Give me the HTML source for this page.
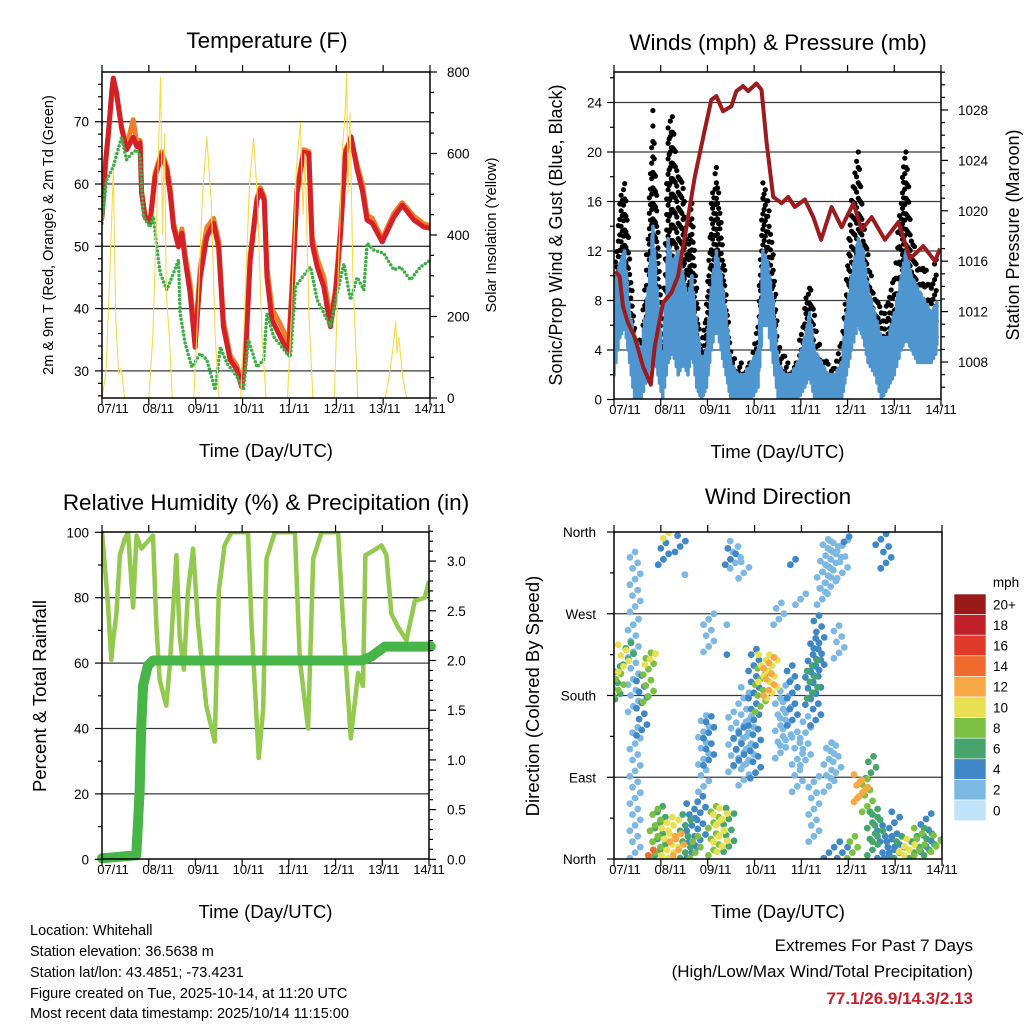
<!DOCTYPE html>
<html><head><meta charset="utf-8"><style>
html,body{margin:0;padding:0;background:#fff;}
svg{display:block;font-family:"Liberation Sans",sans-serif;}
</style></head><body>
<svg id="fig" width="1024" height="1024" viewBox="0 0 1024 1024" xmlns="http://www.w3.org/2000/svg">
<defs>
<clipPath id="c1"><rect x="102" y="72" width="328" height="326"/></clipPath>
<clipPath id="c2"><rect x="614" y="72" width="327" height="327"/></clipPath>
<clipPath id="c3"><rect x="102" y="532" width="327" height="327"/></clipPath>
<clipPath id="c4"><rect x="614" y="532" width="328" height="327"/></clipPath>
</defs>
<g id="g1"></g>
<g id="g2"></g>
<g id="g3"></g>
<g id="g4"></g>
<g id="info" font-size="14.5" fill="#000">
<text x="30" y="935">Location: Whitehall</text>
<text x="30" y="956">Station elevation: 36.5638 m</text>
<text x="30" y="977">Station lat/lon: 43.4851; -73.4231</text>
<text x="30" y="998">Figure created on Tue, 2025-10-14, at 11:20 UTC</text>
<text x="30" y="1018">Most recent data timestamp: 2025/10/14 11:15:00</text>
</g>
<g text-anchor="end">
<text x="973" y="951" font-size="17">Extremes For Past 7 Days</text>
<text x="973" y="977" font-size="17">(High/Low/Max Wind/Total Precipitation)</text>
<text x="973" y="1004" font-size="17" font-weight="bold" fill="#c8202a">77.1/26.9/14.3/2.13</text>
</g>
</svg>
<script>
// ---------- DATA ----------
const dayLabels = ["07/11","08/11","09/11","10/11","11/11","12/11","13/11","14/11"];
// Temperature (hours since 07/11 00 UTC)
const tempHours = [0,1.9,3.3,5.0,5.8,7.5,10,12.6,16,17.8,19.5,20.3,22,24.6,27.2,30.6,33.2,34.9,36.6,39.2,40.9,42.6,45.1,47.7,48.9,50.3,53.7,57.1,59.7,62.2,65.6,69.1,71.6,73.4,75.9,79.4,81.1,83.1,84.5,87,91.3,95.6,97.3,99.9,103.3,105.9,107.6,110.2,113.6,117,119.6,122.2,124.7,127.6,130.7,133.3,135.8,138.4,143.5,149.5,153.8,159.8,164.9,168.3];
const temp2m = [54.8,63.9,68.2,75,77,74.6,69,65.5,67.5,66,66.6,58.5,54.7,53.7,61.1,64.7,62.3,58.5,53.1,49.9,52.1,47.8,42.5,33.8,39.3,45,51.5,53.7,49.9,37.1,31.8,30.2,27.4,31.8,47.8,57.4,59,57.4,45,38.2,35.5,32.8,42.5,58.5,65.1,64.9,50.5,46.7,43.5,37.1,42.5,52.1,64.9,67.6,62.3,59,54.2,53.7,50.7,54.7,56.6,54.2,53.1,52.9];
const temp9m = [54.5,63.5,68,74.2,76.3,74.2,69.2,66,70.3,66.5,67,58.8,55,54,61.8,65.2,62.8,59.5,53.8,50.5,52.8,48.5,44,34.5,40.5,46.5,53,54.5,50.8,38,32.5,30.8,28,32.5,48.5,57.8,59.4,58,46.5,40,37.5,34.5,43.5,59.2,65.5,65.2,51.5,48,45,38.3,43,53,65.5,67.2,63,60,55,54.5,51.2,55.3,57,54.8,53.6,53.3];
const dewHours = [0,2.3,5.8,10,12.6,15.2,17.8,19.5,21.2,24.6,26.3,28.9,29.8,33.2,36.6,39.2,40,42.6,46,50.3,53.7,58,60.6,64,69.1,72.5,75,79.4,82.8,84.5,87.9,92.2,96.5,99.1,102.5,106.8,110.2,113.6,117,120.4,123.9,127.3,130.7,134.1,135.8,139.2,144.3,149.5,152.9,158,163.1,168.3];
const dewPoint = [53.7,60.6,62.8,67.5,63.9,64.9,65.5,64.4,54.8,53.1,54.8,47.8,45.7,43,45.7,47.8,39.3,34.4,30.6,32.8,31.8,26.9,33.8,31.2,29.1,26.9,35,30.6,31.8,39.3,35.5,33.8,32.2,43.5,45,46.7,41.4,39.3,37.1,42.5,47.2,41.4,45,43,50.5,49.4,48.9,46.2,46.7,44.6,46.7,47.8];
const solarHours = [0,2,4,5.8,7,8.5,10,11.5,24,26,28,29.5,30,31,32,33,34.5,36,47,49,51.5,53.7,56,58,60,71,73,75.5,77.6,79.5,82,84,95,97,99.5,101.6,103,104,106,108,119,121,123,124.5,125.3,126,127,128.5,131,145,147,149,150.5,151,152,154,156,168];
const solarWm2 = [0,60,300,560,200,60,70,0,0,150,450,700,788,400,650,250,150,0,0,200,500,640,480,150,0,0,200,520,638,500,150,0,0,200,560,677,450,600,200,0,0,300,600,700,797,500,700,300,0,0,50,120,187,110,150,50,0,0];
// Winds
const windHours = [0,3,5.5,8,10.6,14,17.5,20,22.6,25,27.8,30,33,35.5,38,40,42.5,45,47.5,50,52.6,55,57.6,60,63.8,67,70.6,74,76.5,79,81.8,84.3,87.7,91,94.5,98,100.5,103,106.5,110,113.5,117,119.4,122,125.5,128,130.5,134,137.4,140.8,144,147.6,150,152.8,156,159.6,163,166.4];
const windLow  = [2,5,6,3,0,0,2,4,2,0,3,4,2,3,2,4,1,0,1,4,6,4,2,0,0,0,0,1,6,6,3,0,0,0,0,1,2,0,0,0,0,0,2,4,6,5,3,2,0,1,2,4,5,4,3,3,3,4];
const windHigh = [9,11,12,7,5,4,9,14,8,3,13,11,12,10,8,10,6,3,4,9,12,10,7,3,2,2,3,4,12,11,8,3,2,2,3,5,7,4,3,2,2,3,7,10,13,12,9,7,5,5,7,10,12,10,9,8,7,8];
const gustLow  = [4,6,8,6,2,1,6,8,6,2,10,10,8,6,6,8,4,1,2,8,10,7,4,1,1,1,1,3,10,10,6,1,1,1,1,2,4,2,1,0,0,1,4,7,10,8,6,4,2,3,4,8,10,8,6,5,4,4];
const gustHigh = [10,16,18,12,6,5,14,24,14,5,22,23,18,18,12,17,9,4,8,16,19,15,9,4,3,3,4,7,18,17,12,5,4,3,4,8,10,7,4,3,3,5,10,17,20,15,12,9,7,8,10,17,21,14,11,11,9,13];
const presHours = [0.5,2.9,4.6,7.2,10.6,15,18.9,20.9,25.2,29.5,32.9,37.2,41.5,46.6,50,52.6,56,60.3,62.9,66.3,68.9,73.2,75.8,78.4,81.8,86.1,89.5,92.9,98.1,102.4,106.4,111.8,117,123,127.2,132.4,139.2,146.1,152.1,158.9,164.9,167.5];
const pressure = [1015.2,1014.8,1012.4,1011.1,1010,1007.6,1006.2,1009.2,1012.7,1013.5,1014.8,1018.7,1022.7,1026.4,1028.8,1029.1,1027.9,1028.3,1029.5,1029.9,1029.5,1030.1,1029.6,1025.4,1021.1,1020.6,1021.1,1020.3,1020.9,1019.5,1017.7,1020.3,1018.7,1020.6,1018.5,1019.5,1017.7,1019.1,1016.2,1017.2,1016,1017];
// RH & precip
const rhHours = [0,3.1,4.8,5.7,7.4,9.2,11.7,13.4,16,17.7,20.2,26.2,27.9,29.6,33,34.8,38.2,39.9,42.1,44.2,46.8,49.3,53.6,57.9,60,63,66.5,75,76.8,80.5,82.8,84.5,88.8,99.1,101.6,105.9,108.5,112.8,121.3,123.9,127.8,131.6,134.1,135.3,138.4,143.6,146.1,148.7,152.1,156.4,160.7,165.8,168];
const rhValues = [100,78,61,67,75,93,98,100,77,99,95,99,72,55,47,59,93,68,58,82,95,72,47,36,82,96,100,100,72,31,46,92,100,100,61,40,92,100,100,72,37,57,53,93,94,96,93,75,71,67,79,80,85];
const precipHours = [0,17.6,19.3,20.2,21.1,23.6,26.2,133.3,138.4,145.3,169];
const precipIn = [0.01,0.04,0.68,1.35,1.75,1.95,2.0,2.0,2.04,2.14,2.14];
// Wind direction columns: time, dir low, dir high, speed (mph)
const dirHours = [0.5,2.2,4.8,7.4,10.8,9.9,10.8,14.2,17.6,18.5,21.1,23.6,27.1,30.5,33.1,36.5,39.9,41.6,44.2,45.9,48.5,51,53.6,55.3,58.8,25.3,27.9,33.9,39,48.5,59.6,62.2,66.5,60.5,61.3,63.9,60.5,66.5,69,71.6,72.5,75,76.7,79.3,81,84.4,85.3,87.9,91.3,93.9,93,95.6,98.1,100.7,101.6,103.3,105,106.7,108.4,111,113.6,117,120.4,115.3,110.1,113.6,102.4,110.1,117,122.1,125.6,127.3,129.8,131.6,132.4,135,136.7,139.3,137.6,141,143.6,146.1,148.7,151.3,153.8,156.4,159.8,161.5,165,167.5,20.2,31.3];
const dirLow = [170,180,206,214,272,162,1,136,173,214,1,4,4,1,4,1,1,1,15,74,103,4,19,8,8,324,353,338,313,228,324,320,309,258,96,103,225,81,103,147,89,162,195,180,177,258,111,125,147,74,324,280,103,170,177,147,202,280,298,294,320,309,349,221,74,89,19,1,1,1,63,67,52,89,4,19,346,320,1,1,4,1,8,4,1,4,8,4,8,15,4,19];
const dirHigh = [214,206,236,239,342,265,147,206,228,228,56,59,48,45,30,52,63,30,74,162,162,63,52,56,59,353,360,360,316,272,346,353,331,261,162,147,228,191,162,236,147,214,228,225,228,287,180,199,214,140,331,294,162,221,221,247,272,320,353,353,353,353,357,261,129,129,92,15,19,30,96,89,92,118,52,56,360,346,37,30,56,26,19,26,30,37,52,37,30,30,15,26];
const dirSpeed = [5,8,9,5,2,2,1,3,7,10,7,5,10,9,11,6,4,7,4,2,3,7,10,9,6,3,10,4,1,2,3,1,1,1,2,3,4,1,2,4,3,8,10,11,9,1,1,2,3,2,3,1,1,4,6,4,4,2,1,1,1,1,4,1,1,1,1,3,4,8,11,12,8,6,5,6,4,3,4,3,4,6,10,10,6,7,4,6,7,6,13,12];
const speedBins = ["0","2","4","6","8","10","12","14","16","18","20+"];
const speedColors = ["#bde4f8","#7db8e2","#3f88c5","#45a56d","#7cc043","#e8df52","#f7a845","#ef6a2c","#e03a2c","#c0202a","#9a1a1a"];

// ---------- HELPERS ----------
const NS="http://www.w3.org/2000/svg";
function mk(tag, attrs, parent){const e=document.createElementNS(NS,tag);for(const k in attrs)e.setAttribute(k,attrs[k]);parent.appendChild(e);return e;}
function txt(parent,x,y,s,size,anchor,rot){const t=mk("text",{x:x,y:y,"font-size":size,"text-anchor":anchor||"middle",fill:"#000"},parent);if(rot)t.setAttribute("transform","rotate(-90 "+x+" "+y+")");t.textContent=s;return t;}
function pathFrom(xs,ys,fx,fy){let d="";for(let i=0;i<xs.length;i++){d+=(i?"L":"M")+fx(xs[i]).toFixed(1)+" "+fy(ys[i]).toFixed(1);}return d;}
function colorFor(s){let i=Math.min(10,Math.max(0,Math.round(s/2)));return speedColors[i];}
function lerp(a,b,t){return a+(b-a)*t;}

function frame(g,L,R,T,B){
  const box=mk("rect",{x:L,y:T,width:R-L,height:B-T,fill:"none",stroke:"#000","stroke-width":1.5},g);
  
  
  const step=(R-L)/7;
  for(let i=0;i<=7;i++){
    const x=L+i*step;
    const tb=mk("line",{x1:x,y1:B,x2:x,y2:B+7,stroke:"#000","stroke-width":1.2},g);
    
    
    mk("line",{x1:x,y1:T,x2:x,y2:T-7,stroke:"#000","stroke-width":1.2},g);
    const lx=x+11*(1-i/7);
    const lb=txt(g,lx,B+15,dayLabels[i],13);
    
    
  }
  const xt=txt(g,(L+R)/2,B+59,"Time (Day/UTC)",18.5);
  
  
}
function hgrid(g,L,R,y){const l=mk("line",{x1:L,y1:y,x2:R,y2:y,stroke:"#3a3a3a","stroke-width":1.3},g);}
function ytick(g,x,y,dir,len){mk("line",{x1:x,y1:y,x2:x+dir*len,y2:y,stroke:"#000","stroke-width":1.2},g);}

// ---------- PANEL 1 ----------
(function(){
  const g=document.getElementById("g1");
  const L=102,R=430,T=72,B=398;
  const X=h=>L+h*(R-L)/168;
  const Y=v=>184+(60-v)*6.23;
  const YS=w=>398-w*0.4075;
  [30,40,50,60,70].forEach(v=>hgrid(g,L,R,Y(v)));
  const pg=mk("g",{"clip-path":"url(#c1)"},g);
  const o=mk("path",{d:pathFrom(tempHours,temp9m,X,Y),fill:"none",stroke:"#f07d2a","stroke-width":5,"stroke-linejoin":"round"},pg);
  
  
  const r=mk("path",{d:pathFrom(tempHours,temp2m,X,Y),fill:"none",stroke:"#d42027","stroke-width":5,"stroke-linejoin":"round"},pg);
  
  
  const d=mk("path",{d:pathFrom(dewHours,dewPoint,X,Y),fill:"none",stroke:"#3fae49","stroke-width":3.5,"stroke-dasharray":"0 4","stroke-linecap":"round"},pg);
  
  
  const s=mk("path",{d:pathFrom(solarHours,solarWm2,X,YS),fill:"none",stroke:"#f8d94a","stroke-width":1.1},pg);
  
  
  frame(g,L,R,T,B);
  for(let v=26;v<=76;v+=2){ytick(g,L,Y(v),-1,v%10===0?7:4);}
  [30,40,50,60,70].forEach(v=>{const t=txt(g,L-13,Y(v)+5,String(v),13.5,"end");});
  for(let w=0;w<=800;w+=50){ytick(g,R,YS(w),1,w%200===0?7:4);}
  [0,200,400,600,800].forEach(w=>{const t=txt(g,R+17,YS(w)+5,String(w),13.5,"start");});
  const tt=txt(g,267,48,"Temperature (F)",22.5);
  const yl=txt(g,53,235,"2m & 9m T (Red, Orange) & 2m Td (Green)",14.5,"middle",true);
  const y2=txt(g,496,235,"Solar Insolation (Yellow)",14.5,"middle",true);
})();

// ---------- PANEL 2 ----------
(function(){
  const g=document.getElementById("g2");
  const L=614,R=941,T=72,B=399;
  const X=h=>L+h*(R-L)/168;
  const Y=m=>399.5-m*12.375;
  const YP=p=>110+(1028-p)*12.6;
  [4,8,12,16,20,24].forEach(v=>hgrid(g,L,R,Y(v)));
  const pg=mk("g",{"clip-path":"url(#c2)"},g);
  const n=windHours.length;
  for(let i=0;i<n-1;i++){
    const SUB=4;
    for(let j=0;j<SUB;j++){
      const t=j/SUB;
      const xx=lerp(X(windHours[i]),X(windHours[i+1]),t);
      const lo=lerp(gustLow[i],gustLow[i+1],t), hi=lerp(gustHigh[i],gustHigh[i+1],t);
      const off=((i*3+j*5)%4)*0.35;
      for(let m=lo+off;m<=hi;m+=1.25){
        const c=mk("circle",{cx:xx.toFixed(1),cy:Y(m).toFixed(1),r:2.6,fill:"#000"},pg);
        
        
      }
    }
  }
  const wg=mk("g",{stroke:"#4f96d0","stroke-width":3.6,"stroke-linecap":"round"},pg);
  
  
  for(let i=0;i<n-1;i++){
    const SUB=6;
    for(let j=0;j<SUB;j++){
      const t=j/SUB;
      const xx=lerp(X(windHours[i]),X(windHours[i+1]),t);
      const lo=lerp(windLow[i],windLow[i+1],t), hi=lerp(windHigh[i],windHigh[i+1],t);
      const span=hi-lo;
      const h2=hi-((j%3)===1?span*0.3:0), l2=lo+((j%2)?span*0.15:0);
      const ln=mk("line",{x1:xx.toFixed(1),y1:Y(l2).toFixed(1),x2:xx.toFixed(1),y2:Y(h2).toFixed(1)},wg);
      
      
    }
  }
  const pl=mk("path",{d:pathFrom(presHours,pressure,X,YP),fill:"none",stroke:"#9b1b1e","stroke-width":4,"stroke-linejoin":"round"},pg);
  
  
  frame(g,L,R,T,B);
  for(let v=0;v<=26;v+=2){ytick(g,L,Y(v),-1,v%4===0?7:4);}
  [0,4,8,12,16,20,24].forEach(v=>{const t=txt(g,L-12,Y(v)+5,String(v),13.5,"end");});
  for(let p=1006;p<=1031;p++){ytick(g,R,YP(p),1,p%4===0?7:4);}
  [1008,1012,1016,1020,1024,1028].forEach(p=>{const t=txt(g,R+17,YP(p)+5,String(p),13.5,"start");});
  const tt=txt(g,778,50,"Winds (mph) & Pressure (mb)",22.5);
  const yl=txt(g,562,235,"Sonic/Prop Wind & Gust (Blue, Black)",18,"middle",true);
  const y2=txt(g,1019,235,"Station Pressure (Maroon)",18,"middle",true);
})();

// ---------- PANEL 3 ----------
(function(){
  const g=document.getElementById("g3");
  const L=102,R=429,T=532,B=859;
  const X=h=>L+h*(R-L)/168;
  const Y=r=>859.3-r*3.27;
  const YI=v=>859.3-v*99.4;
  [20,40,60,80].forEach(v=>hgrid(g,L,R,Y(v)));
  const pg=mk("g",{"clip-path":"url(#c3)"},g);
  const rh=mk("path",{d:pathFrom(rhHours,rhValues,X,Y),fill:"none",stroke:"#93c94f","stroke-width":4.5,"stroke-linejoin":"round"},pg);
  
  
  const pr=mk("path",{d:pathFrom(precipHours,precipIn,X,YI),fill:"none",stroke:"#48b548","stroke-width":10,"stroke-linejoin":"round","stroke-linecap":"round"},g);
  
  
  frame(g,L,R,T,B);
  for(let v=0;v<=100;v+=10){ytick(g,L,Y(v),-1,v%20===0?7:4);}
  [0,20,40,60,80,100].forEach(v=>{const t=txt(g,L-13,Y(v)+5,String(v),13.5,"end");});
  for(let i=0;i<=33;i++){const v=i*0.1;ytick(g,R,YI(v),1,i%5===0?7:4);}
  [0,0.5,1,1.5,2,2.5,3].forEach(v=>{const t=txt(g,R+18,YI(v)+5,v.toFixed(1),13.5,"start");});
  const tt=txt(g,266,510,"Relative Humidity (%) & Precipitation (in)",22.5);
  const yl=txt(g,46,696,"Percent & Total Rainfall",18.5,"middle",true);
})();

// ---------- PANEL 4 ----------
(function(){
  const g=document.getElementById("g4");
  const L=614,R=942,T=532,B=859;
  const X=h=>L+h*(R-L)/168;
  const Y=d=>859-d*0.9083;
  [90,180,270].forEach(v=>hgrid(g,L,R,Y(v)));
  const pg=mk("g",{"clip-path":"url(#c4)"},g);
  const order=dirSpeed.map((s,i)=>i).sort((a,b)=>dirSpeed[a]-dirSpeed[b]);
  order.forEach(i=>{
    const col=colorFor(dirSpeed[i]);
    let k=0;
    for(let d=dirLow[i];d<=dirHigh[i];d+=6){
      const dx=((k*7)%5-2)*2.6;k++;
      const c=mk("circle",{cx:(X(dirHours[i])+dx).toFixed(1),cy:Y(d).toFixed(1),r:3.4,fill:col},pg);
      
      
    }
  });
  frame(g,L,R,T,B);
  for(let d=0;d<=360;d+=45){ytick(g,L,Y(d),-1,d%90===0?7:4);}
  const names=["North","East","South","West","North"];
  names.forEach((n,i)=>{const t=txt(g,L-18,Y(i*90)+5,n,13.5,"end");});
  const tt=txt(g,778,504,"Wind Direction",22.5);
  const yl=txt(g,539,696,"Direction (Colored By Speed)",18.5,"middle",true);
  const cb=mk("g",{},g);
  
  
  const top=594,h=20.6;
  for(let i=0;i<11;i++){
    const idx=10-i;
    const r=mk("rect",{x:954,y:top+i*h,width:32,height:h,fill:speedColors[idx],stroke:"#fff","stroke-width":0.6},cb);
    
    
    const t=txt(cb,993,top+i*h+h/2+5,speedBins[idx],13.5,"start");
    
    
  }
  const m=txt(cb,1006,587,"mph",13.5);
  
  
})();
</script>
</body></html>
